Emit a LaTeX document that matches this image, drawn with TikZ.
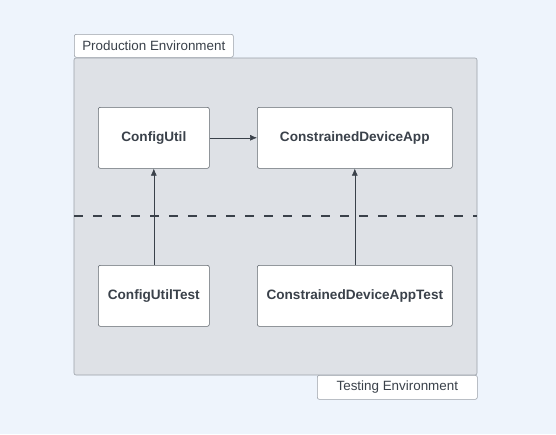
\documentclass[tikz,border=0pt]{standalone}
\usepackage{fontspec}
\setmainfont{Liberation Sans}
\usetikzlibrary{positioning,arrows.meta}
\definecolor{pagebg}{HTML}{EEF4FC}
\definecolor{envfill}{HTML}{DEE1E6}
\definecolor{envline}{HTML}{9AA0A8}
\definecolor{inkgray}{HTML}{3A414A}
\begin{document}
\begin{tikzpicture}[x=1pt,y=-1pt,
    classbox/.style={draw=inkgray!80, fill=white, rounded corners=2pt, line width=0.6pt,
      text=inkgray, font=\bfseries\fontsize{13.6}{15}\selectfont},
    envlabel/.style={draw=envline, fill=white, rounded corners=2pt, line width=0.6pt,
      text=inkgray, font=\fontsize{13.4}{15}\selectfont, inner sep=0pt},
    uses/.style={-{Latex[length=7pt,width=6pt]}, draw=inkgray, line width=0.6pt}]
      % Page
      \fill[pagebg] (0,0) rectangle (556,434);
      \useasboundingbox (0,0) rectangle (556,434);

      % Environment area
      \draw[fill=envfill, draw=envline, rounded corners=2pt, line width=0.6pt] (74,58) rectangle (477,375);
      \node[envlabel, minimum width=159pt, minimum height=23pt, anchor=north west] (prodenv) at (74,34) {Production Environment};
      \node[envlabel, minimum width=160pt, minimum height=24pt, anchor=north west] (testenv) at (317,375) {Testing Environment};

      % Split between production and test
      \draw[inkgray, line width=2pt, dash pattern=on 9pt off 10pt] (74,216) -- (477,216);

      % Classes
      \node[classbox, minimum width=111pt, minimum height=61pt, anchor=north west] (configutil) at (98,107) {ConfigUtil};
      \node[classbox, minimum width=195pt, minimum height=61pt, anchor=north west] (deviceapp) at (257,107) {ConstrainedDeviceApp};
      \node[classbox, minimum width=111pt, minimum height=61pt, anchor=north west] (configutiltest) at (98,265) {ConfigUtilTest};
      \node[classbox, minimum width=195pt, minimum height=61pt, anchor=north west] (deviceapptest) at (257,265) {ConstrainedDeviceAppTest};

      % Dependencies
      \draw[uses] (configutil) -- (deviceapp);
      \draw[uses] (configutiltest) -- (configutil);
      \draw[uses] (deviceapptest) -- (deviceapp);
\end{tikzpicture}
\end{document}
